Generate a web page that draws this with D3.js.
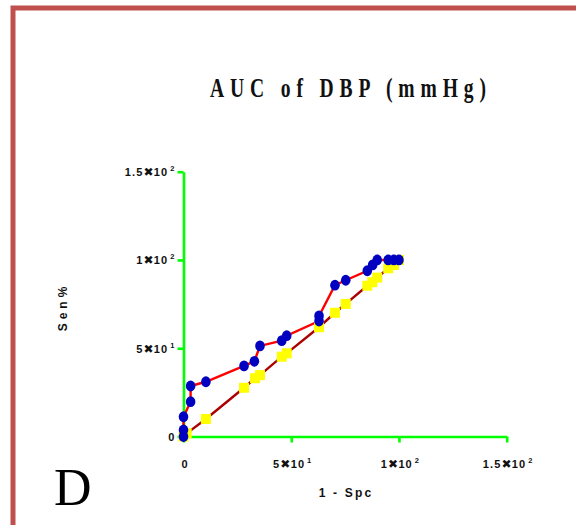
<!DOCTYPE html>
<html>
<head>
<meta charset="utf-8">
<script src="https://cdn.jsdelivr.net/npm/d3@7"></script>
<style>
  html, body { margin: 0; padding: 0; background: #fff; }
  svg { display: block; }
</style>
</head>
<body>
<script>
// ROC curve: sensitivity vs 1 - specificity
const rocX = [0, 0, 0, 3.3, 3.3, 10.4, 28.1, 32.9, 35.5, 45.6, 47.9, 62.9, 62.9, 70.3, 75.3, 85.3, 87.8, 89.9, 95, 97.6, 100];
const rocY = [0, 3.7, 11.2, 19.7, 28.6, 31, 40, 42.6, 51.3, 54.3, 57.1, 65.4, 68.3, 85.7, 88.5, 93.9, 97.2, 100, 100, 100, 100];

// Reference (identity) series
const refX = [0, 1.5, 10.4, 28.1, 33.2, 35.5, 45.6, 47.9, 62.9, 70.3, 75.3, 85.3, 87.6, 89.9, 95, 97.7, 100];
const refY = [0, 1.8, 9.9, 27.6, 33, 34.8, 45.2, 47.1, 61.9, 70.1, 75.1, 85.4, 87.4, 90, 95.3, 97.2, 100];

// Axis ticks
const tickValues = [0, 50, 100, 150];
const tickMantissa = ["0", "5\u271610", "1\u271610", "1.5\u271610"];
const tickExponent = ["", "1", "2", "2"];

const titleText = "AUC of DBP (mmHg)";
const xLabel = "1 - Spc";
const yLabel = "Sen%";
const panelLetter = "D";

const W = 576, H = 525;
const svg = d3.select("body").append("svg").attr("width", W).attr("height", H);

// Panel frame (runs off the right and bottom edges)
svg.append("rect")
  .attr("x", 13).attr("y", 8)
  .attr("width", 600).attr("height", 560)
  .attr("fill", "none")
  .attr("stroke", "#c0504d")
  .attr("stroke-width", 5);

const x = d3.scaleLinear().domain([0, 150]).range([183.5, 506.7]);
const y = d3.scaleLinear().domain([0, 150]).range([436.5, 171.7]);

const green = "#00ff00";
const labelFont = "'Liberation Sans', Arial, sans-serif";

function styleAxis(g) {
  g.select(".domain").attr("stroke", green).attr("stroke-width", 2.6);
  g.selectAll(".tick line").attr("stroke", green).attr("stroke-width", 2.6);
  g.selectAll(".tick text").remove();
}

// Tick label: mantissa, heavy multiplication sign, power of ten as superscript
function addTickLabel(sel, anchor, dx, dy) {
  sel.each(function(d, i) {
    const t = d3.select(this).append("text")
      .attr("x", dx).attr("y", dy)
      .attr("text-anchor", anchor)
      .attr("fill", "#111")
      .attr("font-family", labelFont)
      .attr("font-weight", "bold")
      .attr("font-size", 11)
      .attr("letter-spacing", 1.1);
    const parts = tickMantissa[i].split("\u2716");
    t.append("tspan").text(parts[0]);
    if (parts.length > 1) {
      t.append("tspan")
        .attr("font-family", "'DejaVu Sans', sans-serif")
        .attr("font-size", 12)
        .attr("letter-spacing", 0.3)
        .text("\u2716");
      t.append("tspan").text(parts[1]);
    }
    if (tickExponent[i]) {
      t.append("tspan").attr("dx", 2).attr("dy", -5)
        .attr("font-size", 7.5).text(tickExponent[i]);
    }
  });
}

const xAxis = svg.append("g")
  .attr("transform", `translate(0,${y(0)})`)
  .call(d3.axisBottom(x).tickValues(tickValues).tickSize(6).tickSizeOuter(0));
styleAxis(xAxis);
addTickLabel(xAxis.selectAll(".tick"), "middle", 1, 31);

const yAxis = svg.append("g")
  .attr("transform", `translate(${x(0)},0)`)
  .call(d3.axisLeft(y).tickValues(tickValues).tickSize(6).tickSizeOuter(0));
styleAxis(yAxis);
addTickLabel(yAxis.selectAll(".tick"), "end", -8, 4);

// Reference line and markers
const refPts = refX.map((v, i) => [v, refY[i]]);
const rocPts = rocX.map((v, i) => [v, rocY[i]]);
const line = d3.line().x(d => x(d[0])).y(d => y(d[1]));

svg.append("path").datum(refPts)
  .attr("d", line).attr("fill", "none")
  .attr("stroke", "#aa0000").attr("stroke-width", 2.4);

svg.append("path").datum(rocPts)
  .attr("d", line).attr("fill", "none")
  .attr("stroke", "#ff0000").attr("stroke-width", 2.4);

svg.append("g").selectAll("rect").data(refPts).join("rect")
  .attr("x", d => x(d[0]) - 5).attr("y", d => y(d[1]) - 5)
  .attr("width", 10).attr("height", 10)
  .attr("fill", "#ffff00");

svg.append("g").selectAll("ellipse").data(rocPts).join("ellipse")
  .attr("cx", d => x(d[0])).attr("cy", d => y(d[1]))
  .attr("rx", 4.8).attr("ry", 5.4)
  .attr("fill", "#0000c0");

// Title: condensed bold serif, spread across a fixed width
const titleLeft = 210, titleWidth = 276, titleSqueeze = 0.7;
const title = svg.append("g")
  .attr("transform", `translate(${titleLeft},96.5) scale(${titleSqueeze},1)`)
  .append("text")
  .attr("x", 0).attr("y", 0)
  .attr("font-family", "'Liberation Serif', 'Times New Roman', serif")
  .attr("font-weight", "bold")
  .attr("font-size", 28)
  .attr("fill", "#111")
  .text(titleText);
const natural = title.node().getComputedTextLength();
const spacing = (titleWidth / titleSqueeze - natural) / (titleText.length - 1);
title.attr("letter-spacing", spacing);

svg.append("text")
  .attr("x", 346).attr("y", 497)
  .attr("text-anchor", "middle")
  .attr("font-family", labelFont)
  .attr("font-weight", "bold")
  .attr("font-size", 12)
  .attr("letter-spacing", 2.2)
  .attr("fill", "#111")
  .text(xLabel);

svg.append("text")
  .attr("transform", "translate(67,307) rotate(-90)")
  .attr("text-anchor", "middle")
  .attr("font-family", labelFont)
  .attr("font-weight", "bold")
  .attr("font-size", 12)
  .attr("letter-spacing", 4)
  .attr("fill", "#111")
  .text(yLabel);

svg.append("text")
  .attr("x", 54).attr("y", 505)
  .attr("font-family", "'Liberation Serif', 'Times New Roman', serif")
  .attr("font-size", 52)
  .attr("fill", "#000")
  .text(panelLetter);
</script>
</body>
</html>
